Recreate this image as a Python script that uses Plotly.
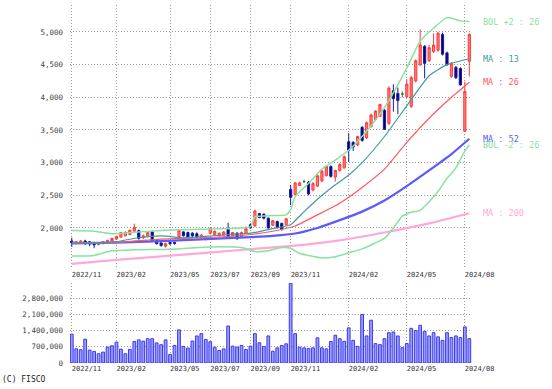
import plotly.graph_objects as go

# ---------------- data ----------------
tick_idx = [0, 10, 22, 31, 40, 49, 62, 75, 88]
tick_text = ["2022/11", "2023/02", "2023/05", "2023/07", "2023/09",
             "2023/11", "2024/02", "2024/05", "2024/08"]

opens = [1800, 1765, 1770, 1800, 1790, 1770, 1745, 1760, 1780, 1800,
         1830, 1860, 1880, 1900, 1950, 1960, 1850, 1870, 1940, 1810,
         1770, 1720, 1780, 1780, 1870, 1940, 1930, 1920, 1910, 1850,
         1830, 1920, 1890, 1880, 1890, 1980, 1880, 1920, 1870, 1920,
         2050, 2030, 2220, 2210, 2150, 2040, 2100, 2070, 2050, 2590,
         2510, 2650, 2710, 2700, 2580, 2640, 2720, 2800, 2940, 2780,
         2880, 2920, 3320, 3310, 3270, 3540, 3380, 3550, 3660, 3710,
         3800, 3600, 4100, 4060, 4050, 4010, 3860, 4250, 4500, 4780,
         4560, 4700, 4720, 4960, 4680, 4320, 4460, 4440, 3480, 4550]
highs = [1850, 1800, 1815, 1820, 1800, 1790, 1780, 1800, 1820, 1850,
         1880, 1940, 1950, 1975, 2065, 1975, 1900, 1940, 1960, 1830,
         1785, 1775, 1790, 1790, 1975, 1950, 1945, 1935, 1935, 1910,
         1880, 2010, 1960, 1930, 1950, 2080, 1940, 1935, 1945, 2020,
         2070, 2280, 2230, 2225, 2160, 2120, 2110, 2080, 2150, 2660,
         2700, 2710, 2740, 2720, 2700, 2820, 2890, 2960, 2960, 2890,
         2990, 3110, 3450, 3330, 3410, 3560, 3630, 3750, 3800, 3900,
         3820, 4170, 4200, 4150, 4090, 4280, 4330, 4580, 5040, 4800,
         4800, 4980, 5000, 4990, 4700, 4540, 4480, 4460, 4240, 4980]
lows = [1710, 1750, 1755, 1740, 1720, 1690, 1735, 1750, 1770, 1790,
        1815, 1850, 1870, 1890, 1940, 1820, 1830, 1860, 1790, 1745,
        1715, 1700, 1740, 1745, 1860, 1870, 1850, 1860, 1850, 1835,
        1810, 1900, 1880, 1870, 1880, 1850, 1870, 1815, 1860, 1910,
        1990, 2020, 2150, 2130, 1990, 2030, 1990, 1960, 2040, 2350,
        2500, 2640, 2690, 2500, 2560, 2630, 2700, 2790, 2770, 2710,
        2860, 2910, 3010, 3180, 3250, 3320, 3360, 3540, 3640, 3700,
        3500, 3580, 3780, 3740, 4000, 3990, 3840, 4230, 4480, 4290,
        4540, 4680, 4700, 4640, 4480, 4300, 4280, 4180, 3470, 4320]
closes = [1770, 1790, 1800, 1760, 1755, 1740, 1770, 1790, 1810, 1840,
          1870, 1930, 1930, 1965, 2010, 1840, 1880, 1930, 1800, 1760,
          1730, 1760, 1760, 1765, 1965, 1880, 1860, 1880, 1860, 1890,
          1860, 1990, 1950, 1920, 1940, 1860, 1930, 1840, 1930, 1990,
          2000, 2260, 2160, 2150, 2000, 2110, 2010, 1980, 2140, 2470,
          2690, 2690, 2710, 2520, 2680, 2800, 2870, 2940, 2790, 2880,
          2970, 3090, 3190, 3240, 3400, 3340, 3610, 3730, 3790, 3890,
          3510, 4140, 3980, 3950, 4050, 4200, 4300, 4560, 4800, 4520,
          4760, 4800, 4980, 4660, 4500, 4520, 4300, 4190, 4090, 4960]

volume = [1245000, 615000, 573000, 1030000, 560000, 500000, 400000, 470000, 690000, 745000,
          900000, 600000, 400000, 590000, 930000, 1000000, 945000, 1050000, 1050000, 870000,
          790000, 1000000, 370000, 760000, 1430000, 715000, 645000, 950000, 1170000, 1270000,
          1020000, 920000, 685000, 540000, 610000, 1600000, 730000, 685000, 760000, 585000,
          730000, 1270000, 875000, 715000, 1170000, 510000, 655000, 760000, 830000, 3450000,
          1270000, 685000, 655000, 630000, 655000, 1090000, 655000, 610000, 930000, 1200000,
          1050000, 940000, 1520000, 980000, 720000, 2100000, 1170000, 1850000, 840000, 795000,
          1050000, 1310000, 1340000, 1170000, 665000, 840000, 1500000, 1410000, 1630000, 1370000,
          1170000, 1310000, 1130000, 980000, 1310000, 1100000, 1170000, 1100000, 1560000, 1050000]

ma13_x = [0, 5, 10, 15, 20, 25, 30, 35, 40, 45, 49, 52, 55, 59, 62, 65, 70, 75, 80, 84, 89]
ma13_y = [1780, 1775, 1790, 1850, 1880, 1850, 1870, 1900, 1920, 1990, 2050, 2250, 2440,
          2660, 2810, 3000, 3400, 3870, 4330, 4500, 4590]

ma26_x = [0, 10, 20, 30, 40, 45, 50, 55, 60, 65, 70, 75, 80, 85, 89]
ma26_y = [1770, 1780, 1830, 1850, 1900, 1950, 2030, 2200, 2380, 2620, 2900, 3310, 3680, 4000, 4230]

ma52_x = [0, 10, 20, 30, 40, 45, 50, 55, 60, 65, 70, 75, 80, 85, 89]
ma52_y = [1765, 1775, 1800, 1830, 1860, 1880, 1915, 2000, 2120, 2250, 2420, 2640, 2880, 3130, 3365]

ma200_x = [0, 10, 20, 30, 40, 50, 60, 70, 80, 89]
ma200_y = [1450, 1510, 1565, 1620, 1675, 1730, 1810, 1930, 2070, 2225]

bolu_x = [0, 5, 9, 14, 22, 31, 40, 41, 45, 48, 49, 50, 53, 56, 59, 62, 65, 68, 71, 75,
          78, 81, 84, 87, 89]
bolu_y = [1960, 1950, 1910, 1935, 1970, 1985, 2020, 2170, 2190, 2200, 2280, 2480, 2680,
          2900, 3040, 3190, 3400, 3650, 3950, 4450, 4860, 5060, 5220, 5170, 5160]

boll_x = [0, 5, 9, 14, 22, 31, 38, 41, 44, 47, 49, 51, 53, 56, 59, 62, 65, 67, 70, 72,
          74, 76, 78, 80, 82, 84, 86, 88, 89]
boll_y = [1570, 1580, 1650, 1665, 1675, 1710, 1700, 1640, 1650, 1700, 1690, 1610, 1580,
          1540, 1560, 1620, 1680, 1740, 1840, 2000, 2180, 2240, 2270, 2400, 2560, 2760,
          2920, 3180, 3270]

price_ticks = [2000, 2500, 3000, 3500, 4000, 4500, 5000]
vol_ticks = [0, 700000, 1400000, 2100000, 2800000]

# ---------------- styles ----------------
MONO = "DejaVu Sans Mono"
C_UP_LINE, C_UP_FILL = "#ff3a3a", "#ff7a7a"
C_DN_LINE, C_DN_FILL = "#1a1a99", "#000080"
C_DOJI = "#228822"
C_MA13, C_MA26, C_MA52, C_MA200, C_BOL = "#3c9f9f", "#ff5a5a", "#5a5aff", "#ffa8d8", "#88e2a0"
GRID = "#9a9a9a"

fig = go.Figure()

# moving averages / bands (drawn behind candles)
lines = [
    (ma200_x, ma200_y, C_MA200, 2.2),
    (boll_x, boll_y, C_BOL, 1.5),
    (bolu_x, bolu_y, C_BOL, 1.5),
    (ma52_x, ma52_y, C_MA52, 2.2),
    (ma26_x, ma26_y, C_MA26, 1.2),
    (ma13_x, ma13_y, C_MA13, 1.2),
]
for xs, ys, col, w in lines:
    fig.add_trace(go.Scatter(x=xs, y=ys, mode="lines",
                             line=dict(color=col, width=w, shape="spline", smoothing=0.5),
                             xaxis="x", yaxis="y", hoverinfo="skip"))

groups = {"up": [], "dn": [], "doji": []}
for i in range(len(opens)):
    if closes[i] > opens[i]:
        groups["up"].append(i)
    elif closes[i] < opens[i]:
        groups["dn"].append(i)
    else:
        groups["doji"].append(i)

styles = {"up": (C_UP_LINE, C_UP_FILL), "dn": (C_DN_LINE, C_DN_FILL), "doji": (C_DOJI, C_DOJI)}
for key, idx in groups.items():
    lc, fc = styles[key]
    fig.add_trace(go.Candlestick(
        x=idx,
        open=[opens[i] for i in idx], high=[highs[i] for i in idx],
        low=[lows[i] for i in idx], close=[closes[i] for i in idx],
        increasing=dict(line=dict(color=lc, width=1), fillcolor=fc),
        decreasing=dict(line=dict(color=lc, width=1), fillcolor=fc),
        whiskerwidth=0, xaxis="x", yaxis="y", hoverinfo="skip"))

fig.add_trace(go.Bar(x=list(range(len(volume))), y=volume, xaxis="x2", yaxis="y2",
                     marker=dict(color="#9c9cff", line=dict(color="#3a3af0", width=1)),
                     hoverinfo="skip"))

# labels at line ends
ends = [
    ("BOL +2 : 26", bolu_y[-1], C_BOL),
    ("MA : 13", ma13_y[-1], C_MA13),
    ("MA : 26", ma26_y[-1], C_MA26),
    ("MA : 52", ma52_y[-1], C_MA52),
    ("BOL -2 : 26", boll_y[-1], C_BOL),
    ("MA : 200", ma200_y[-1], C_MA200),
]
for txt, yv, col in ends:
    fig.add_annotation(text=txt, x=1.022, xref="paper", y=yv, yref="y",
                       xanchor="left", yanchor="middle", showarrow=False,
                       font=dict(family=MONO, size=8.5, color=col))

fig.add_annotation(text="(C) FISCO", x=-0.174, xref="paper", y=-0.047, yref="paper",
                   xanchor="left", yanchor="middle", showarrow=False,
                   font=dict(family=MONO, size=8, color="#222"))

xcommon = dict(range=[-0.4, 89.6], tickmode="array", tickvals=tick_idx, ticktext=tick_text,
               showgrid=True, gridcolor=GRID, griddash="1px,2px", gridwidth=1,
               zeroline=False, showline=False, ticks="",
               ticklabelposition="outside right",
               tickfont=dict(family=MONO, size=7, color="#333"))
ycommon = dict(showgrid=True, gridcolor=GRID, griddash="1px,2px", gridwidth=1,
               zeroline=False, showline=False, ticks="", ticklabelstandoff=6,
               tickfont=dict(family=MONO, size=7.5, color="#444"))

fig.update_layout(
    width=552, height=389,
    margin=dict(l=70, r=80, t=5, b=26),
    plot_bgcolor="white", paper_bgcolor="white",
    showlegend=False,
    xaxis=dict(domain=[0, 1], anchor="y", rangeslider=dict(visible=False), **xcommon),
    xaxis2=dict(domain=[0, 1], anchor="y2", rangeslider=dict(visible=False), **xcommon),
    yaxis=dict(domain=[0.2626, 1], anchor="x", range=[1372, 5413],
               tickvals=price_ticks, ticktext=[f"{v:,}" for v in price_ticks], **ycommon),
    yaxis2=dict(domain=[0, 0.2235], anchor="x2", range=[0, 3460000],
                tickvals=vol_ticks, ticktext=[f"{v:,}" for v in vol_ticks], **ycommon),
    bargap=0.38,
)

fig.write_html("out.html", config={"displayModeBar": False},
               post_script="document.body.style.margin='0';")
